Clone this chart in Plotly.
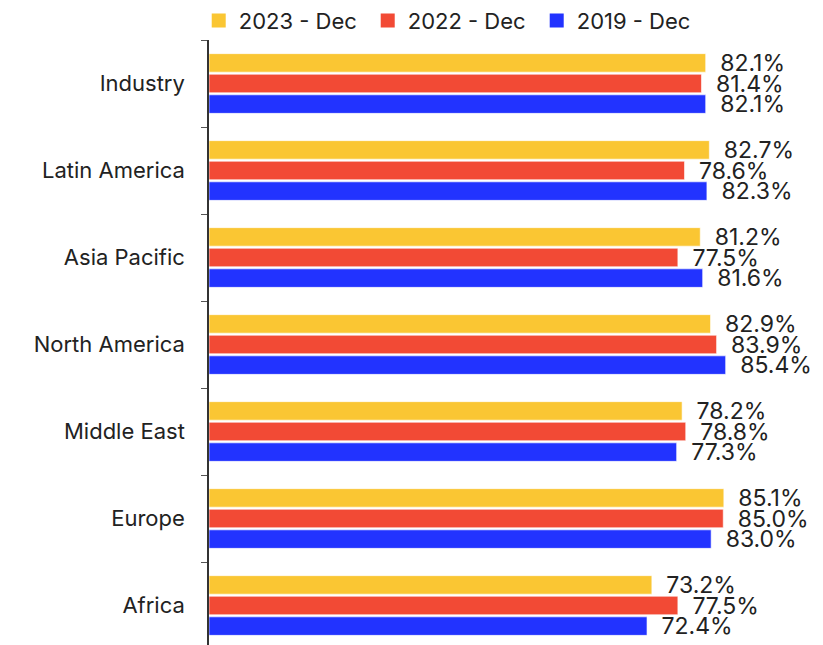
import plotly.graph_objects as go

categories = ["Industry", "Latin America", "Asia Pacific", "North America",
              "Middle East", "Europe", "Africa"]
series_names = ["2023 - Dec", "2022 - Dec", "2019 - Dec"]
values_2023 = [82.1, 82.7, 81.2, 82.9, 78.2, 85.1, 73.2]
values_2022 = [81.4, 78.6, 77.5, 83.9, 78.8, 85.0, 77.5]
values_2019 = [82.1, 82.3, 81.6, 85.4, 77.3, 83.0, 72.4]
colors = ["#FAC633", "#F24A35", "#2233FF"]

FONT = "Inter, Roboto, Liberation Sans, sans-serif"
FS = 22

fig = go.Figure()
for name, vals, col in zip(series_names, [values_2023, values_2022, values_2019], colors):
    fig.add_trace(go.Bar(
        name=name,
        y=categories,
        x=vals,
        orientation="h",
        marker=dict(color=col, line=dict(color="rgba(255,255,255,0.6)", width=1)),
        text=["\u2002" + f"{v:.1f}%" for v in vals],
        textposition="outside",
        constraintext="none",
        textangle=0,
        textfont=dict(family=FONT, size=23, color="#222222"),
        cliponaxis=False,
        showlegend=False,
        legendgroup=name,
    ))

# legend entries with larger square swatches
for name, col in zip(series_names, colors):
    fig.add_trace(go.Scatter(
        name=name,
        x=[None], y=[None],
        mode="markers",
        marker=dict(symbol="square", size=14, color=col, line=dict(width=0)),
        legendgroup=name,
        showlegend=True,
        hoverinfo="skip",
    ))

fig.update_layout(
    width=815, height=637,
    margin=dict(l=201, r=9, t=32, b=0, autoexpand=False),
    barmode="group",
    bargap=0.29,
    bargroupgap=0.1,
    plot_bgcolor="white",
    paper_bgcolor="white",
    font=dict(family=FONT, size=FS, color="#222222"),
    legend=dict(orientation="h", x=-0.017, xanchor="left", y=1.032, yanchor="middle",
                font=dict(family=FONT, size=FS, color="#222222"),
                entrywidth=124, entrywidthmode="pixels",
                bgcolor="rgba(0,0,0,0)",
                traceorder="normal"),
    xaxis=dict(range=[0, 100], visible=False),
    yaxis=dict(
        type="category",
        categoryorder="array", categoryarray=categories,
        range=[6.454, -0.5],
        showline=True, linecolor="#333333", linewidth=1.5,
        ticks="outside", tickson="boundaries", ticklen=6, tickcolor="#555555",
        ticklabelstandoff=18,
        showgrid=False,
        tickfont=dict(family=FONT, size=FS, color="#222222"),
    ),
)

fig.write_html("out.html")
